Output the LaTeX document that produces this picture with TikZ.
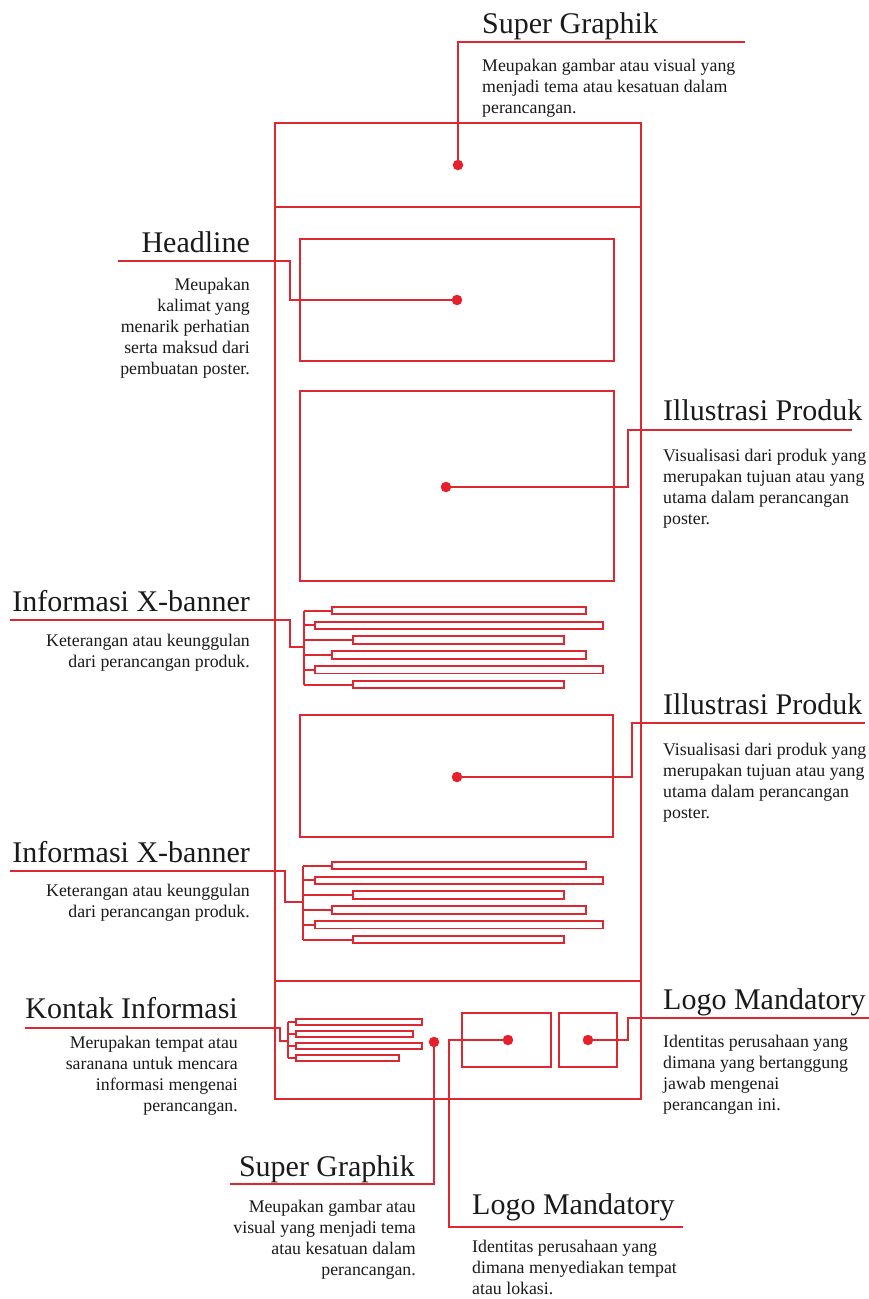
\documentclass[tikz,border=0pt]{standalone}
\usepackage{fontspec}
\setmainfont{Liberation Serif}
\usetikzlibrary{calc}
\definecolor{lred}{RGB}{221,40,50}
\definecolor{dred}{RGB}{232,30,40}
\definecolor{ink}{RGB}{26,26,26}
\newcommand{\bodytextR}[1]{\begin{tabular}[t]{@{}r@{}}#1\end{tabular}}
\newcommand{\bodytextL}[1]{\begin{tabular}[t]{@{}l@{}}#1\end{tabular}}
\tikzset{
  ln/.style={draw=lred, line width=2pt, line join=miter},
  boxr/.style={draw=lred, line width=2pt, inner sep=0pt, outer sep=0pt, anchor=north west},
  barr/.style={draw=lred, line width=1.9pt, inner sep=0pt, outer sep=0pt, minimum height=7.5pt},
  dotr/.style={circle, fill=dred, inner sep=0pt, minimum size=10.5pt},
  headR/.style={font=\fontsize{30}{36}\selectfont, text=ink, inner sep=0pt, anchor=base east},
  headL/.style={font=\fontsize{30}{36}\selectfont, text=ink, inner sep=0pt, anchor=base west},
  bodyR/.style={font=\fontsize{17.8}{21}\selectfont, text=ink, inner sep=0pt, anchor=base east},
  bodyL/.style={font=\fontsize{17.8}{21}\selectfont, text=ink, inner sep=0pt, anchor=base west},
}
\begin{document}
\begin{tikzpicture}[x=1pt, y=-1pt]
\useasboundingbox[fill=white] (0,0) rectangle (869,1299);

% poster frame
\node[boxr, minimum width=366pt, minimum height=976pt] (frame) at (275,123) {};
\coordinate (dvA1) at (275,207); \coordinate (dvA2) at (641,207);
\coordinate (dvB1) at (275,981); \coordinate (dvB2) at (641,981);
\draw[ln] (dvA1) -- (dvA2);
\draw[ln] (dvB1) -- (dvB2);

% inner boxes
\node[boxr, minimum width=314pt, minimum height=122pt] (hl) at (300,239) {};
\node[boxr, minimum width=314pt, minimum height=190pt] (il1) at (300,391) {};
\node[boxr, minimum width=313pt, minimum height=122pt] (il2) at (300,715) {};
\node[boxr, minimum width=89pt, minimum height=54pt] (lg1) at (462,1013) {};
\node[boxr, minimum width=58pt, minimum height=54pt] (lg2) at (559,1013) {};

% information bars (two sets)
\foreach \s/\dy/\sx in {1/0/304, 2/255/303} {
  \foreach \i/\xl/\xr in {1/332/586, 2/315/603, 3/353/564, 4/332/586, 5/315/603, 6/353/564} {
    \pgfmathsetmacro{\myy}{610.5+14.8*(\i-1)+\dy}
    \pgfmathsetmacro{\myw}{\xr-\xl}
    \pgfmathsetmacro{\myx}{(\xl+\xr)/2}
    \node[barr, minimum width=\myw pt] (b\s\i) at (\myx,\myy) {};
    \coordinate (br\s\i) at (\sx,\myy);
    \draw[ln] (br\s\i) -- (b\s\i.west);
  }
  \draw[ln] (br\s1) -- (br\s6);
}

% contact bars
\foreach \i/\xr in {1/422, 2/413, 3/422, 4/399} {
  \pgfmathsetmacro{\myy}{1022+12*(\i-1)}
  \pgfmathsetmacro{\myw}{\xr-296}
  \pgfmathsetmacro{\myx}{(296+\xr)/2}
  \node[barr, minimum width=\myw pt, minimum height=6pt] (k\i) at (\myx,\myy) {};
  \coordinate (kr\i) at (288,\myy);
  \draw[ln] (kr\i) -- (k\i.west);
}
\draw[ln] (kr1) -- (kr4);

% dots
\node[dotr] (dSG) at (458,165) {};
\node[dotr] (dHL) at (457,300) {};
\node[dotr] (dIL1) at (446,487) {};
\node[dotr] (dIL2) at (457,777) {};
\node[dotr] (dSG2) at (434,1042) {};
\node[dotr] (dLG1) at (508,1040) {};
\node[dotr] (dLG2) at (588,1040) {};

% connectors
\coordinate (eSG) at (745,42);
\draw[ln] (dSG.center) |- (eSG);

\coordinate (eHL) at (118,261);
\draw[ln] (eHL) -- (290,261) |- (dHL.center);

\coordinate (eIL1) at (852,430);
\draw[ln] (dIL1.center) -- (628,487) |- (eIL1);

\coordinate (eIX1) at (10,620); \coordinate (jIX1) at (304,647);
\draw[ln] (eIX1) -- (290,620) |- (jIX1);

\coordinate (eIL2) at (865,723);
\draw[ln] (dIL2.center) -- (632,777) |- (eIL2);

\coordinate (eIX2) at (10,871); \coordinate (jIX2) at (303,902);
\draw[ln] (eIX2) -- (285,871) |- (jIX2);

\coordinate (eKI) at (25,1028); \coordinate (jKI) at (288,1041);
\draw[ln] (eKI) -- (280,1028) |- (jKI);

\coordinate (eLG2) at (869,1018);
\draw[ln] (dLG2.center) -- (628,1040) |- (eLG2);

\coordinate (eSG2) at (230,1184);
\draw[ln] (dSG2.center) |- (eSG2);

\coordinate (eLG1) at (683,1227);
\draw[ln] (dLG1.center) -- (449,1040) |- (eLG1);

% texts
\node[headL] (tSG) at (482,33) {Super Graphik};
\node[bodyL] (sSG) at (482,71) {\bodytextL{Meupakan gambar atau visual yang\\menjadi tema atau kesatuan dalam\\perancangan.}};

\node[headR] (tHL) at (250,252) {Headline};
\node[bodyR] (sHL) at (250,290) {\bodytextR{Meupakan\\kalimat yang\\menarik perhatian\\serta maksud dari\\pembuatan poster.}};

\node[headL] (tIL1) at (663,420) {Illustrasi Produk};
\node[bodyL] (sIL1) at (663,461) {\bodytextL{Visualisasi dari produk yang\\merupakan tujuan atau yang\\utama dalam perancangan\\poster.}};

\node[headR] (tIX1) at (250,611) {Informasi X-banner};
\node[bodyR] (sIX1) at (250,646) {\bodytextR{Keterangan atau keunggulan\\dari perancangan produk.}};

\node[headL] (tIL2) at (663,714) {Illustrasi Produk};
\node[bodyL] (sIL2) at (663,755) {\bodytextL{Visualisasi dari produk yang\\merupakan tujuan atau yang\\utama dalam perancangan\\poster.}};

\node[headR] (tIX2) at (250,862) {Informasi X-banner};
\node[bodyR] (sIX2) at (250,896) {\bodytextR{Keterangan atau keunggulan\\dari perancangan produk.}};

\node[headL] (tLG2) at (663,1009) {Logo Mandatory};
\node[bodyL] (sLG2) at (663,1047) {\bodytextL{Identitas perusahaan yang\\dimana yang bertanggung\\jawab mengenai\\perancangan ini.}};

\node[headR] (tKI) at (238,1018) {Kontak Informasi};
\node[bodyR] (sKI) at (238,1048) {\bodytextR{Merupakan tempat atau\\saranana untuk mencara\\informasi mengenai\\perancangan.}};

\node[headR] (tSG2) at (415,1176) {Super Graphik};
\node[bodyR] (sSG2) at (416,1212) {\bodytextR{Meupakan gambar atau\\visual yang menjadi tema\\atau kesatuan dalam\\perancangan.}};

\node[headL] (tLG1) at (472,1214) {Logo Mandatory};
\node[bodyL] (sLG1) at (472,1252) {\bodytextL{Identitas perusahaan yang\\dimana menyediakan tempat\\atau lokasi.}};
\end{tikzpicture}
\end{document}
